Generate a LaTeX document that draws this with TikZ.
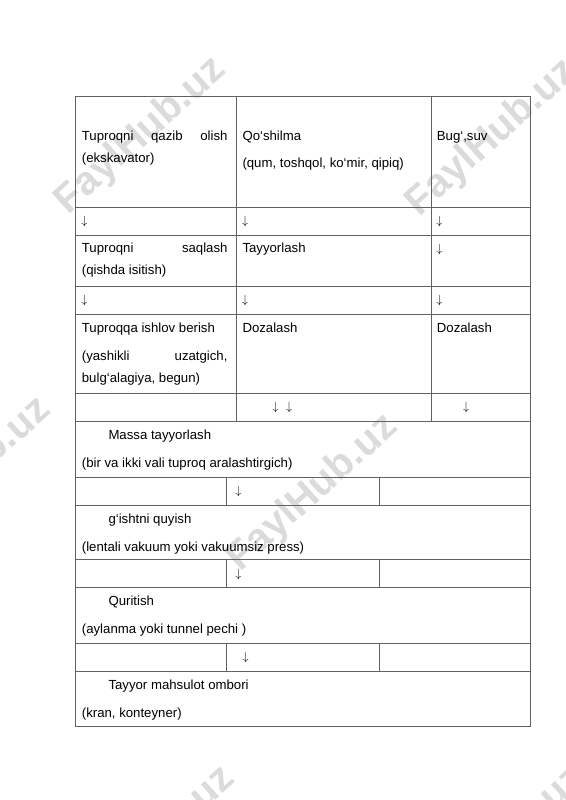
\documentclass[tikz,border=0pt]{standalone}
\usepackage{fontspec}
\setmainfont{Liberation Sans}
\begin{document}
\begin{tikzpicture}[x=1pt,y=-1pt,
  grid/.style={draw=black!62, line width=0.9pt},
  txt/.style={anchor=base west, inner sep=0pt, font=\fontsize{13.2}{15}\selectfont},
  arr/.style={anchor=base, inner sep=0pt, font=\fontsize{12.5}{15}\selectfont},
  wm/.style={text=black!14, font=\fontsize{40}{40}\selectfont\bfseries, rotate=42, inner sep=0pt}]
\useasboundingbox (0,0) rectangle (565,800);
\begin{scope}
\clip (0,0) rectangle (565,800);
\node[wm] (w1) at (141,136) {FaylHub.uz};
\node[wm] (w2) at (492,138) {FaylHub.uz};
\node[wm] (w3) at (-34,476) {FaylHub.uz};
\node[wm] (w4) at (313,493) {FaylHub.uz};
\node[wm] (w5) at (150,845) {FaylHub.uz};
\node[wm] (w6) at (500,845) {FaylHub.uz};
\end{scope}
% table frame
\draw[grid] (75.5,96) rectangle (530,726.7);
\foreach \y in {207.3,235.7,286,314.3,393.3,421.7,477.3,505,559.3,587.3,643.3,671}
  \draw[grid] (75.5,\y) -- (530,\y);
\foreach \x in {236.7,431.7}
  \draw[grid] (\x,96) -- (\x,421.7);
\foreach \a/\b in {477.3/505,559.3/587.3,643.3/671}{
  \draw[grid] (226.7,\a) -- (226.7,\b);
  \draw[grid] (379.3,\a) -- (379.3,\b);
}
% row 1
\node[txt] (t1a) at (81.7,140) {\makebox[145.6pt][s]{Tuproqni qazib olish}};
\node[txt] (t1b) at (81.7,162.5) {(ekskavator)};
\node[txt] (t2a) at (242.3,140) {Qo‘shilma};
\node[txt] (t2b) at (242.3,167) {(qum, toshqol, ko‘mir, qipiq)};
\node[txt] (t3a) at (436.7,140) {Bug‘,suv};
% row 2
\node[arr] (a1) at (84.3,224.5) {$\downarrow$};
\node[arr] (a2) at (245,224.5) {$\downarrow$};
\node[arr] (a3) at (439.3,224.5) {$\downarrow$};
% row 3
\node[txt] (t4a) at (81.7,252) {\makebox[145.6pt][s]{Tuproqni saqlash}};
\node[txt] (t4b) at (81.7,274.5) {(qishda isitish)};
\node[txt] (t5a) at (242.3,252) {Tayyorlash};
\node[arr] (a4) at (439.3,252.5) {$\downarrow$};
% row 4
\node[arr] (a5) at (84.3,303.5) {$\downarrow$};
\node[arr] (a6) at (245,303.5) {$\downarrow$};
\node[arr] (a7) at (439.3,303.5) {$\downarrow$};
% row 5
\node[txt] (t6a) at (81.7,332) {Tuproqqa ishlov berish};
\node[txt] (t6b) at (81.7,360) {\makebox[145.6pt][s]{(yashikli uzatgich,}};
\node[txt] (t6c) at (81.7,382.5) {bulg‘alagiya, begun)};
\node[txt] (t7a) at (242.3,332) {Dozalash};
\node[txt] (t8a) at (436.7,332) {Dozalash};
% row 6
\node[arr] (a8) at (275.7,410.5) {$\downarrow$};
\node[arr] (a9) at (289,410.5) {$\downarrow$};
\node[arr] (a10) at (466,410.5) {$\downarrow$};
% row 7
\node[txt] (t9a) at (108.3,439) {Massa tayyorlash};
\node[txt] (t9b) at (81.7,467) {(bir va ikki vali tuproq aralashtirgich)};
% row 8
\node[arr] (a11) at (238.3,494.5) {$\downarrow$};
% row 9
\node[txt] (t10a) at (108.3,523) {g‘ishtni quyish};
\node[txt] (t10b) at (81.7,551) {(lentali vakuum yoki vakuumsiz press)};
% row 10
\node[arr] (a12) at (238.3,577.5) {$\downarrow$};
% row 11
\node[txt] (t11a) at (108.3,605) {Quritish};
\node[txt] (t11b) at (81.7,633) {(aylanma yoki tunnel pechi )};
% row 12
\node[arr] (a13) at (245.7,660.5) {$\downarrow$};
% row 13
\node[txt] (t12a) at (108.3,689) {Tayyor mahsulot ombori};
\node[txt] (t12b) at (81.7,717) {(kran, konteyner)};
\end{tikzpicture}
\end{document}
